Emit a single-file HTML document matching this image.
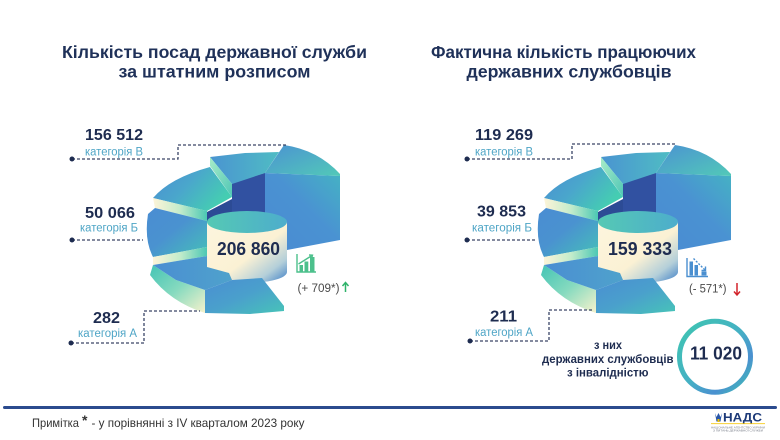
<!DOCTYPE html>
<html>
<head>
<meta charset="utf-8">
<style>
  html,body{margin:0;padding:0;background:#fff;}
  svg{display:block;}
  text{font-family:"Liberation Sans","Noto Sans CJK SC",sans-serif;}
</style>
</head>
<body>
<svg width="780" height="440" viewBox="0 0 780 440" xmlns="http://www.w3.org/2000/svg">
  <defs>
    <linearGradient id="gTM" x1="0" y1="0" x2="1" y2="0">
      <stop offset="0" stop-color="#4a94d1"/><stop offset="1" stop-color="#4fbcc4"/>
    </linearGradient>
    <linearGradient id="gMint" x1="0" y1="0" x2="1" y2="1">
      <stop offset="0" stop-color="#a8ecc8"/><stop offset="1" stop-color="#4fc6b6"/>
    </linearGradient>
    <linearGradient id="gTallF" x1="1" y1="0" x2="0" y2="1">
      <stop offset="0" stop-color="#45b2c4"/><stop offset="0.45" stop-color="#4a92d2"/><stop offset="1" stop-color="#4a8bd2"/>
    </linearGradient>
    <linearGradient id="gTallT" x1="0" y1="0" x2="1" y2="1">
      <stop offset="0" stop-color="#4b92d2"/><stop offset="1" stop-color="#52c9b8"/>
    </linearGradient>
    <linearGradient id="gUL" x1="0" y1="0" x2="1" y2="0.5">
      <stop offset="0" stop-color="#4a8ed2"/><stop offset="0.5" stop-color="#4aa6cc"/><stop offset="1" stop-color="#45cdb2"/>
    </linearGradient>
    <linearGradient id="gCr" x1="0" y1="0" x2="1" y2="0">
      <stop offset="0" stop-color="#fdf4d8"/><stop offset="0.5" stop-color="#c4eccb"/><stop offset="1" stop-color="#4cc8b4"/>
    </linearGradient>
    <linearGradient id="gL" x1="0" y1="0" x2="1" y2="1">
      <stop offset="0" stop-color="#4a8dd2"/><stop offset="0.45" stop-color="#4a92d0"/><stop offset="1" stop-color="#45c0b8"/>
    </linearGradient>
    <linearGradient id="gLLs" x1="0" y1="0" x2="1" y2="1">
      <stop offset="0" stop-color="#44c4b5"/><stop offset="0.5" stop-color="#86dabf"/><stop offset="1" stop-color="#f6f2cc"/>
    </linearGradient>
    <linearGradient id="gLLt" x1="0" y1="0" x2="1" y2="0">
      <stop offset="0" stop-color="#4a8ed2"/><stop offset="1" stop-color="#4fa2cc"/>
    </linearGradient>
    <linearGradient id="gBF" x1="0" y1="0" x2="1" y2="1">
      <stop offset="0" stop-color="#4a8ed2"/><stop offset="0.5" stop-color="#4aa0cc"/><stop offset="1" stop-color="#47c4b8"/>
    </linearGradient>
    <linearGradient id="gCyl" x1="0" y1="0" x2="1" y2="1">
      <stop offset="0" stop-color="#fdf5de"/><stop offset="0.55" stop-color="#fbf1d4"/><stop offset="0.8" stop-color="#b4cfd9"/><stop offset="1" stop-color="#3a7cc6"/>
    </linearGradient>
    <linearGradient id="gCylT" x1="0" y1="0" x2="1" y2="0">
      <stop offset="0" stop-color="#55c9b4"/><stop offset="1" stop-color="#4dadcc"/>
    </linearGradient>
    <linearGradient id="gRing" x1="0" y1="0" x2="1" y2="1">
      <stop offset="0" stop-color="#3ec6b0"/><stop offset="0.5" stop-color="#45b0c4"/><stop offset="0.75" stop-color="#4a90d0"/><stop offset="1" stop-color="#3ec6b0"/>
    </linearGradient>
  </defs>

  <rect x="0" y="0" width="780" height="440" fill="#ffffff"/>

  <!-- Titles -->
  <g fill="#1f3159" font-weight="bold" font-size="17.5">
    <text x="62" y="58" textLength="305" lengthAdjust="spacingAndGlyphs">Кількість посад державної служби</text>
    <text x="118.5" y="77.5" textLength="192" lengthAdjust="spacingAndGlyphs">за штатним розписом</text>
    <text x="431" y="58" textLength="265" lengthAdjust="spacingAndGlyphs">Фактична кількість працюючих</text>
    <text x="466.5" y="77.5" textLength="205" lengthAdjust="spacingAndGlyphs">державних службовців</text>
  </g>

  <!-- Donut (left) -->
  <g id="donut">
    <polygon points="207,212 232,199 232,183 265,173 265,232 207,232" fill="#2c4b95"/>
    <polygon points="232,199 232,183 265,173 265,232 232,232" fill="#3151a1"/>
    <polygon points="210,157 245,153 279,152 265,173 232,184" fill="url(#gTM)"/>
    <polygon points="210,157 210,166 232,197 232,184" fill="url(#gMint)"/>
    <polygon points="265,173 340,176 340,240 287,250 265,246" fill="url(#gTallF)"/>
    <path d="M265,173 L284,145 Q318,150 340,174 L340,176 Z" fill="url(#gTallT)"/>
    <path d="M153,198 Q170,178 210,167 L232,197 L207,211 Z" fill="url(#gUL)"/>
    <polygon points="153,198 207,211 207,221 155,208" fill="url(#gCr)"/>
    <path d="M155,208 L207,221 L207,247 L153,257 Q144,240 148,214 Z" fill="url(#gL)"/>
    <polygon points="153,257 207,247 207,256 153,265" fill="url(#gCr)"/>
    <path d="M207,222 V272 A40,11 0 0 0 287,272 V222 Z" fill="url(#gCyl)"/>
    <ellipse cx="247" cy="222" rx="40" ry="11" fill="url(#gCylT)"/>
    <path d="M153,265 L176,280 L205,290 L205,313 Q170,302 150,275 Z" fill="url(#gLLs)"/>
    <polygon points="153,265 207,256 207,267 229,273 232,280 205,290 176,280" fill="url(#gLLt)"/>
    <polygon points="205,290 232,280 262,278 284,306 284,311 250,314 205,313" fill="url(#gBF)"/>
  </g>
  <use href="#donut" transform="translate(391,0)"/>

  <!-- Center numbers -->
  <g fill="#1e2c50" font-weight="bold" font-size="18">
    <text x="217" y="255" textLength="63" lengthAdjust="spacingAndGlyphs">206 860</text>
    <text x="608" y="255" textLength="64" lengthAdjust="spacingAndGlyphs">159 333</text>
  </g>

  <!-- Dashed leader lines -->
  <g fill="none" stroke="#3a4566" stroke-width="1.3" stroke-dasharray="3,2">
    <path d="M72,159 H178 V145 H288"/>
    <path d="M72,240 H143"/>
    <path d="M71,343 H144 V311 H200"/>
    <path d="M467,159 H572 V144 H677"/>
    <path d="M467,240 H537"/>
    <path d="M470,341 H549 V310 H592"/>
  </g>
  <g fill="#1e2c50">
    <circle cx="72" cy="159" r="2.5"/>
    <circle cx="72" cy="240" r="2.5"/>
    <circle cx="71" cy="343" r="2.5"/>
    <circle cx="467" cy="159" r="2.5"/>
    <circle cx="467" cy="240" r="2.5"/>
    <circle cx="470" cy="341" r="2.5"/>
  </g>

  <!-- Labels -->
  <g fill="#1e2c50" font-weight="bold" font-size="16">
    <text x="85" y="140" textLength="58" lengthAdjust="spacingAndGlyphs">156 512</text>
    <text x="85" y="218" textLength="50" lengthAdjust="spacingAndGlyphs">50 066</text>
    <text x="93" y="323" textLength="27" lengthAdjust="spacingAndGlyphs">282</text>
    <text x="475" y="140" textLength="58" lengthAdjust="spacingAndGlyphs">119 269</text>
    <text x="477" y="216.5" textLength="49" lengthAdjust="spacingAndGlyphs">39 853</text>
    <text x="490" y="321.5" textLength="27" lengthAdjust="spacingAndGlyphs">211</text>
  </g>
  <g fill="#4ea5c6" font-size="11.5">
    <text x="85" y="155.5" textLength="58" lengthAdjust="spacingAndGlyphs">категорія В</text>
    <text x="80" y="231.5" textLength="58" lengthAdjust="spacingAndGlyphs">категорія Б</text>
    <text x="78" y="337" textLength="59" lengthAdjust="spacingAndGlyphs">категорія А</text>
    <text x="475" y="155.5" textLength="58" lengthAdjust="spacingAndGlyphs">категорія В</text>
    <text x="472" y="231.5" textLength="60" lengthAdjust="spacingAndGlyphs">категорія Б</text>
    <text x="475" y="336" textLength="58" lengthAdjust="spacingAndGlyphs">категорія А</text>
  </g>

  <!-- Left change icon -->
  <g stroke="#4cc08c" fill="none" stroke-width="1.4">
    <path d="M297,254 V272 H316"/>
    <path d="M298.5,264 L312,255.5"/>
    <path d="M309,255 L312.5,255.2 L311.5,258.5"/>
  </g>
  <g fill="#4cc08c">
    <rect x="299.5" y="265" width="3.5" height="6.5"/>
    <rect x="304.5" y="261.5" width="3.8" height="10"/>
    <rect x="310" y="257" width="4.5" height="14.5"/>
  </g>
  <text x="297.5" y="292" font-size="11.5" fill="#4a4a4a" textLength="42" lengthAdjust="spacingAndGlyphs">(+ 709*)</text>
  <g stroke="#2fb36a" stroke-width="1.5" fill="none">
    <path d="M345.5,292 V283"/>
    <path d="M342.5,286 L345.5,282.5 L348.5,286"/>
  </g>

  <!-- Right change icon -->
  <g stroke="#4a8fd0" fill="none" stroke-width="1.4">
    <path d="M687,258 V276.5 H708"/>
    <path d="M693.5,258.5 L705,270" stroke-dasharray="2,1.5"/>
    <path d="M705.5,266.5 L705.5,270.5 L701.5,270.5"/>
  </g>
  <g fill="#4a8fd0">
    <rect x="689.5" y="261.5" width="3.5" height="14"/>
    <rect x="694.5" y="265" width="3.5" height="10.5"/>
    <rect x="701.5" y="271.5" width="5" height="4"/>
  </g>
  <text x="689" y="292.5" font-size="11.5" fill="#4a4a4a" textLength="37.5" lengthAdjust="spacingAndGlyphs">(- 571*)</text>
  <g stroke="#d2232a" stroke-width="1.5" fill="none">
    <path d="M737,283 V295"/>
    <path d="M734,291.5 L737,295 L740,291.5"/>
  </g>

  <!-- Disabled employees -->
  <g fill="#1e2c50" font-weight="bold" font-size="11.5">
    <text x="594" y="349" textLength="28" lengthAdjust="spacingAndGlyphs">з них</text>
    <text x="542" y="363" textLength="131.5" lengthAdjust="spacingAndGlyphs">державних службовців</text>
    <text x="567" y="376.5" textLength="81.5" lengthAdjust="spacingAndGlyphs">з інвалідністю</text>
  </g>
  <circle cx="715" cy="356.7" r="35.5" fill="none" stroke="url(#gRing)" stroke-width="5"/>
  <text x="690" y="359.5" font-size="18" font-weight="bold" fill="#1e2c50" textLength="52" lengthAdjust="spacingAndGlyphs">11 020</text>

  <!-- Footer -->
  <rect x="3" y="406" width="774" height="3" rx="1.5" fill="#2b4b8e"/>
  <text x="32" y="427" font-size="12" fill="#333" textLength="47" lengthAdjust="spacingAndGlyphs">Примітка</text>
  <text x="82" y="425" font-size="14" font-weight="bold" fill="#333">*</text>
  <text x="91.5" y="427" font-size="12" fill="#333" textLength="213" lengthAdjust="spacingAndGlyphs">- у порівнянні з IV кварталом 2023 року</text>

  <!-- Logo -->
  <g>
    <path d="M715,413 L716.5,421.5 L720.5,421.5 L722,413 L720.5,417 L718.5,413 L716.5,417 Z" fill="#2a57a8"/>
    <rect x="717.5" y="419" width="2" height="3" fill="#f5c400"/>
    <text x="723" y="421.7" font-size="11.5" font-weight="bold" fill="#1d3a78" textLength="39" lengthAdjust="spacingAndGlyphs">НАДС</text>
    <rect x="711" y="423.3" width="54" height="0.8" fill="#f5c400"/>
    <text x="711" y="428.3" font-size="2.6" fill="#7a7f8a" textLength="54" lengthAdjust="spacingAndGlyphs">НАЦІОНАЛЬНЕ АГЕНТСТВО УКРАЇНИ</text>
    <text x="713" y="431.7" font-size="2.6" fill="#7a7f8a" textLength="50" lengthAdjust="spacingAndGlyphs">З ПИТАНЬ ДЕРЖАВНОЇ СЛУЖБИ</text>
  </g>
</svg>
</body>
</html>
